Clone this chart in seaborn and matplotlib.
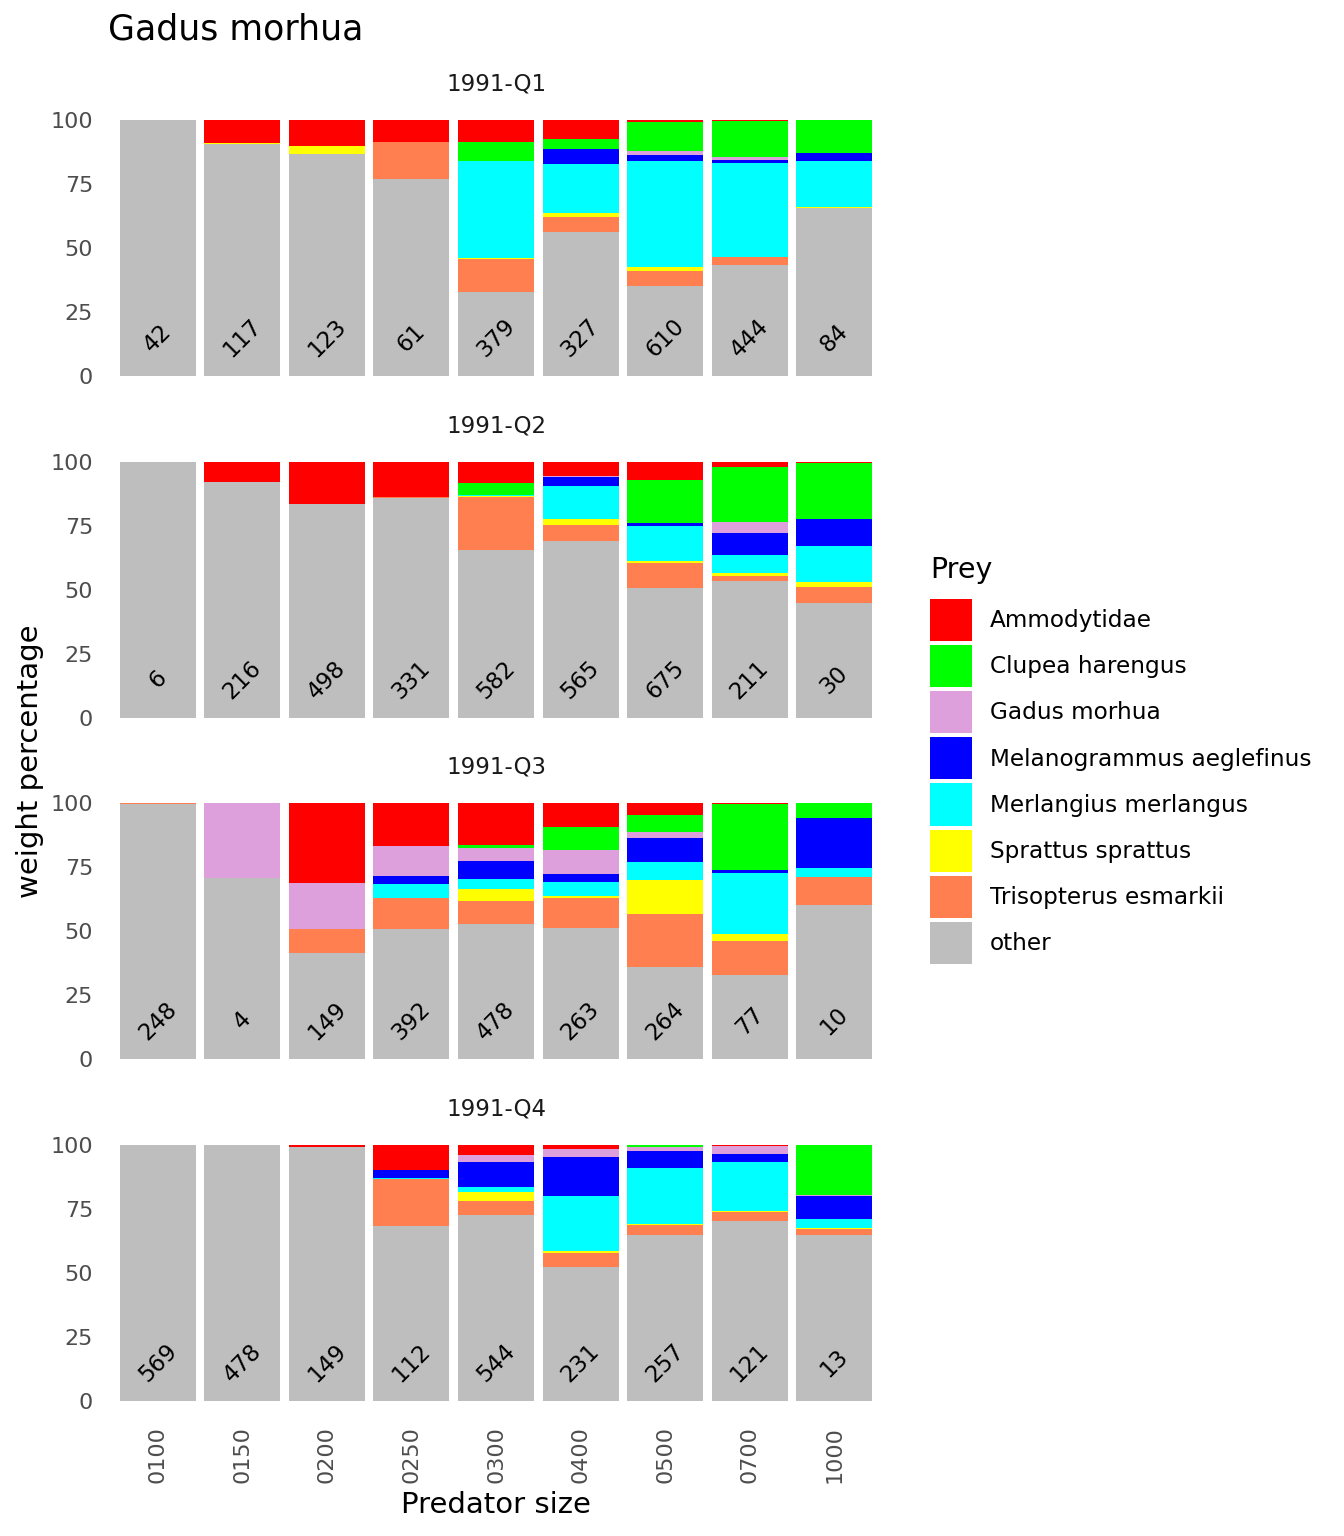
import matplotlib
matplotlib.use("Agg")
import matplotlib.pyplot as plt
from matplotlib.patches import Patch
import numpy as np
import pandas as pd
import seaborn as sns

# ---- data (weight percentages) ----
sizes = ["0100", "0150", "0200", "0250", "0300", "0400", "0500", "0700", "1000"]
prey = ["Ammodytidae", "Clupea harengus", "Gadus morhua", "Melanogrammus aeglefinus",
        "Merlangius merlangus", "Sprattus sprattus", "Trisopterus esmarkii", "other"]
prey_colors = ["#FF0000", "#00FF00", "#DDA0DD", "#0000FF",
               "#00FFFF", "#FFFF00", "#FF7F50", "#BEBEBE"]
quarters = ["1991-Q1", "1991-Q2", "1991-Q3", "1991-Q4"]

# 1991-Q1
q1_ammod = [0, 9.2, 10.4, 8.6, 8.6, 7.4, 0.7, 0.4, 0]
q1_clupea = [0, 0, 0, 0, 7.4, 4.1, 11.4, 14.1, 13.0]
q1_gadus = [0, 0, 0, 0, 0, 0, 1.7, 1.3, 0]
q1_melano = [0, 0, 0, 0, 0, 5.6, 2.2, 0.9, 3.1]
q1_merlang = [0, 0, 0, 0, 37.9, 19.4, 41.3, 36.8, 18.1]
q1_sprat = [0, 0.4, 3.0, 0, 0.5, 1.3, 1.7, 0, 0.1]
q1_trisop = [0, 0, 0, 14.4, 12.9, 6.1, 5.8, 3.0, 0.1]
q1_other = [100, 90.4, 86.6, 77.0, 32.7, 56.1, 35.2, 43.5, 65.6]
q1_n = [42, 117, 123, 61, 379, 327, 610, 444, 84]

# 1991-Q2
q2_ammod = [0, 7.8, 16.4, 13.8, 8.1, 5.6, 7.0, 2.2, 0.4]
q2_clupea = [0, 0, 0, 0, 4.7, 0, 16.7, 21.4, 22.1]
q2_gadus = [0, 0, 0, 0, 0, 0.3, 0, 4.1, 0]
q2_melano = [0, 0, 0, 0, 0, 3.5, 1.3, 8.6, 10.2]
q2_merlang = [0, 0, 0, 0, 0.5, 12.9, 13.7, 7.1, 14.0]
q2_sprat = [0, 0, 0, 0, 0.6, 2.3, 0.6, 1.1, 2.1]
q2_trisop = [0, 0, 0, 0.2, 20.6, 6.3, 10.0, 1.9, 6.4]
q2_other = [100, 92.2, 83.6, 86.0, 65.5, 69.1, 50.7, 53.6, 44.8]
q2_n = [6, 216, 498, 331, 582, 565, 675, 211, 30]

# 1991-Q3
q3_ammod = [0, 0, 31.2, 16.8, 16.4, 9.4, 4.9, 0.5, 0]
q3_clupea = [0, 0, 0, 0, 1.4, 9.1, 6.6, 25.9, 5.9]
q3_gadus = [0, 29.4, 17.9, 11.7, 4.9, 9.4, 2.3, 0, 0]
q3_melano = [0, 0, 0, 3.3, 7.0, 3.0, 9.2, 0.8, 19.4]
q3_merlang = [0, 0, 0, 5.4, 3.9, 5.4, 7.2, 24.0, 3.7]
q3_sprat = [0, 0, 0, 0, 4.7, 0.7, 13.3, 2.6, 0]
q3_trisop = [0.4, 0, 9.6, 11.9, 8.8, 11.7, 20.6, 13.4, 10.8]
q3_other = [99.6, 70.6, 41.3, 50.9, 52.9, 51.3, 35.9, 32.8, 60.2]
q3_n = [248, 4, 149, 392, 478, 263, 264, 77, 10]

# 1991-Q4
q4_ammod = [0, 0, 0.7, 9.9, 3.9, 1.6, 0, 0.3, 0]
q4_clupea = [0, 0, 0, 0, 0, 0, 0.7, 0.3, 19.7]
q4_gadus = [0, 0, 0, 0, 2.7, 3.2, 1.9, 3.0, 0.4]
q4_melano = [0, 0, 0, 2.9, 9.8, 15.1, 6.4, 3.2, 8.8]
q4_merlang = [0, 0, 0, 0.7, 2.0, 21.6, 21.9, 19.2, 3.5]
q4_sprat = [0, 0, 0, 0, 3.6, 0.6, 0.2, 0.2, 0.4]
q4_trisop = [0, 0, 0, 18.1, 5.5, 5.6, 4.2, 3.7, 2.5]
q4_other = [100, 100, 99.3, 68.4, 72.5, 52.3, 64.7, 70.1, 64.7]
q4_n = [569, 478, 149, 112, 544, 231, 257, 121, 13]

panels = [
    [q1_ammod, q1_clupea, q1_gadus, q1_melano, q1_merlang, q1_sprat, q1_trisop, q1_other],
    [q2_ammod, q2_clupea, q2_gadus, q2_melano, q2_merlang, q2_sprat, q2_trisop, q2_other],
    [q3_ammod, q3_clupea, q3_gadus, q3_melano, q3_merlang, q3_sprat, q3_trisop, q3_other],
    [q4_ammod, q4_clupea, q4_gadus, q4_melano, q4_merlang, q4_sprat, q4_trisop, q4_other],
]
counts = [q1_n, q2_n, q3_n, q4_n]

# ---- figure ----
sns.set_theme(style="white")
plt.rcParams["font.family"] = ["DejaVu Sans"]

W, H = 1344, 1536
fig = plt.figure(figsize=(W / 100, H / 100), dpi=100)

ax_left, ax_w, ax_h = 107, 778, 282
ax_tops = [107, 449, 790, 1132]
tick_col = "#4D4D4D"

for k, (vals, ns) in enumerate(zip(panels, counts)):
    top = ax_tops[k]
    ax = fig.add_axes([ax_left / W, 1 - (top + ax_h) / H, ax_w / W, ax_h / H])

    # stacked from "other" at bottom to Ammodytidae on top:
    # draw cumulative heights, tallest first, each overlaying the previous
    df = pd.DataFrame({p: v for p, v in zip(prey, vals)}, index=sizes)
    cum = df[prey[::-1]].cumsum(axis=1)
    for p, c in zip(prey, prey_colors):
        d = pd.DataFrame({"size": sizes, "cum": cum[p].values})
        sns.barplot(data=d, x="size", y="cum", order=sizes, color=c,
                    width=0.9, linewidth=0, errorbar=None, ax=ax, saturation=1)

    for i, n in enumerate(ns):
        ax.text(i, 15, str(n), rotation=45, ha="center", va="center",
                fontsize=16.5, color="black")

    ax.set_xlim(-0.6, len(sizes) - 0.4)
    ax.set_ylim(-5, 105)
    ax.set_yticks([0, 25, 50, 75, 100])
    ax.tick_params(axis="y", labelsize=16, colors=tick_col, length=0, pad=10)
    ax.set_xlabel("")
    ax.set_ylabel("")
    if k < 3:
        ax.set_xticks([])
    else:
        ax.tick_params(axis="x", labelsize=16, colors=tick_col, length=0,
                       labelrotation=90, pad=8.5)
    for s in ax.spines.values():
        s.set_visible(False)
    ax.grid(False)
    ax.set_title(quarters[k], fontsize=16.5, color="#1A1A1A", pad=12)

fig.text(108 / W, 1 - 29 / H, "Gadus morhua", fontsize=25, color="black",
         ha="left", va="center")
fig.text(496 / W, 1 - 1505 / H, "Predator size", fontsize=21, color="black",
         ha="center", va="center")
fig.text(30 / W, 1 - 761 / H, "weight percentage", fontsize=21, color="black",
         rotation=90, ha="center", va="center")

# legend
fig.text(930 / W, 1 - 570 / H, "Prey", fontsize=20.5, color="black",
         ha="left", va="center")
handles = [Patch(facecolor=c, edgecolor="none") for c in prey_colors]
leg = fig.legend(handles, prey, loc="upper left",
                 bbox_to_anchor=(930 / W, 1 - 599 / H), frameon=False,
                 fontsize=16.7, borderpad=0, borderaxespad=0,
                 handlelength=1.8, handleheight=2.42, labelspacing=0.17,
                 handletextpad=0.77)
for t in leg.get_texts():
    t.set_color("black")

fig.savefig("out.png", dpi=100)
